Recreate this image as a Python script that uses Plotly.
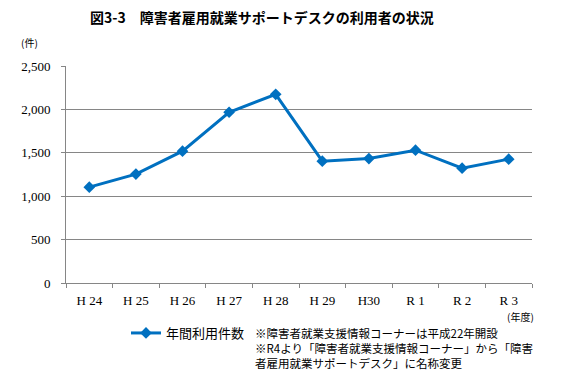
import plotly.graph_objects as go

categories = ["H 24", "H 25", "H 26", "H 27", "H 28", "H 29", "H30", "R 1", "R 2", "R 3"]
values = [1104, 1255, 1519, 1967, 2174, 1404, 1434, 1530, 1323, 1427]
series_name = "年間利用件数"
y_ticks = [0, 500, 1000, 1500, 2000, 2500]
y_tick_labels = ["0", "500", "1,000", "1,500", "2,000", "2,500"]

title = "図3-3　障害者雇用就業サポートデスクの利用者の状況"
notes = ["※障害者就業支援情報コーナーは平成22年開設",
         "※R4より「障害者就業支援情報コーナー」から「障害",
         "者雇用就業サポートデスク」に名称変更"]

# the page body has an 8px margin, so the figure is drawn 8px in from the window edge
OFF = 8
W, H = 567 - OFF, 384 - OFF
L, R, T, B = 66 - OFF, 35, 66 - OFF, 101
pw, ph = W - L - R, H - T - B


def px(xs):  # window pixel x -> paper
    return (xs - OFF - L) / pw


def py(ys):  # window pixel y -> paper
    return ((H - B) - (ys - OFF)) / ph


fig = go.Figure()
fig.add_trace(go.Scatter(
    x=categories, y=values, name=series_name, mode="lines+markers",
    line=dict(color="#0070C0", width=3),
    marker=dict(symbol="diamond", size=9, color="#0070C0"),
))

serif = "Liberation Serif, DejaVu Serif, serif"
gothic = "Noto Sans CJK JP, sans-serif"

fig.update_layout(
    width=W, height=H,
    margin=dict(l=L, r=R, t=T, b=B, autoexpand=False),
    paper_bgcolor="white", plot_bgcolor="white",
    showlegend=True,
    legend=dict(x=px(126), y=py(333), xanchor="left", yanchor="middle",
                font=dict(family=gothic, size=13, color="black"), bgcolor="rgba(0,0,0,0)",
                itemwidth=30),
    xaxis=dict(
        type="category", showline=True, linecolor="#868686", linewidth=1,
        ticks="outside", tickson="boundaries", ticklen=4, tickcolor="#868686",
        showgrid=False, tickfont=dict(family=serif, size=13, color="black"),
        range=[-0.5, len(categories) - 0.5], ticklabelstandoff=5,
    ),
    yaxis=dict(
        range=[0, 2500], tickvals=y_ticks, ticktext=y_tick_labels,
        showline=True, linecolor="#868686", linewidth=1,
        ticks="outside", ticklen=4, tickcolor="#868686",
        showgrid=True, gridcolor="#868686", gridwidth=1,
        tickfont=dict(family=serif, size=13, color="black"),
        ticklabelstandoff=8, zeroline=False,
    ),
)

fig.add_annotation(text="<b>" + title + "</b>", x=px(262), y=py(17), xref="paper", yref="paper",
                   xanchor="center", yanchor="middle", showarrow=False,
                   font=dict(family=gothic, size=14, color="black"))
fig.add_annotation(text="(件)", x=px(19), y=py(43), xref="paper", yref="paper", showarrow=False,
                   font=dict(family=gothic, size=10, color="black"), xanchor="left", yanchor="middle")
fig.add_annotation(text="(年度)", x=px(505), y=py(316), xref="paper", yref="paper", showarrow=False,
                   font=dict(family=gothic, size=10, color="black"), xanchor="left", yanchor="middle")
fig.add_annotation(text="<br>".join(notes), x=px(253), y=py(323), xref="paper", yref="paper",
                   showarrow=False, font=dict(family=gothic, size=11.5, color="black"),
                   xanchor="left", yanchor="top", align="left")

fig.write_html("out.html")
